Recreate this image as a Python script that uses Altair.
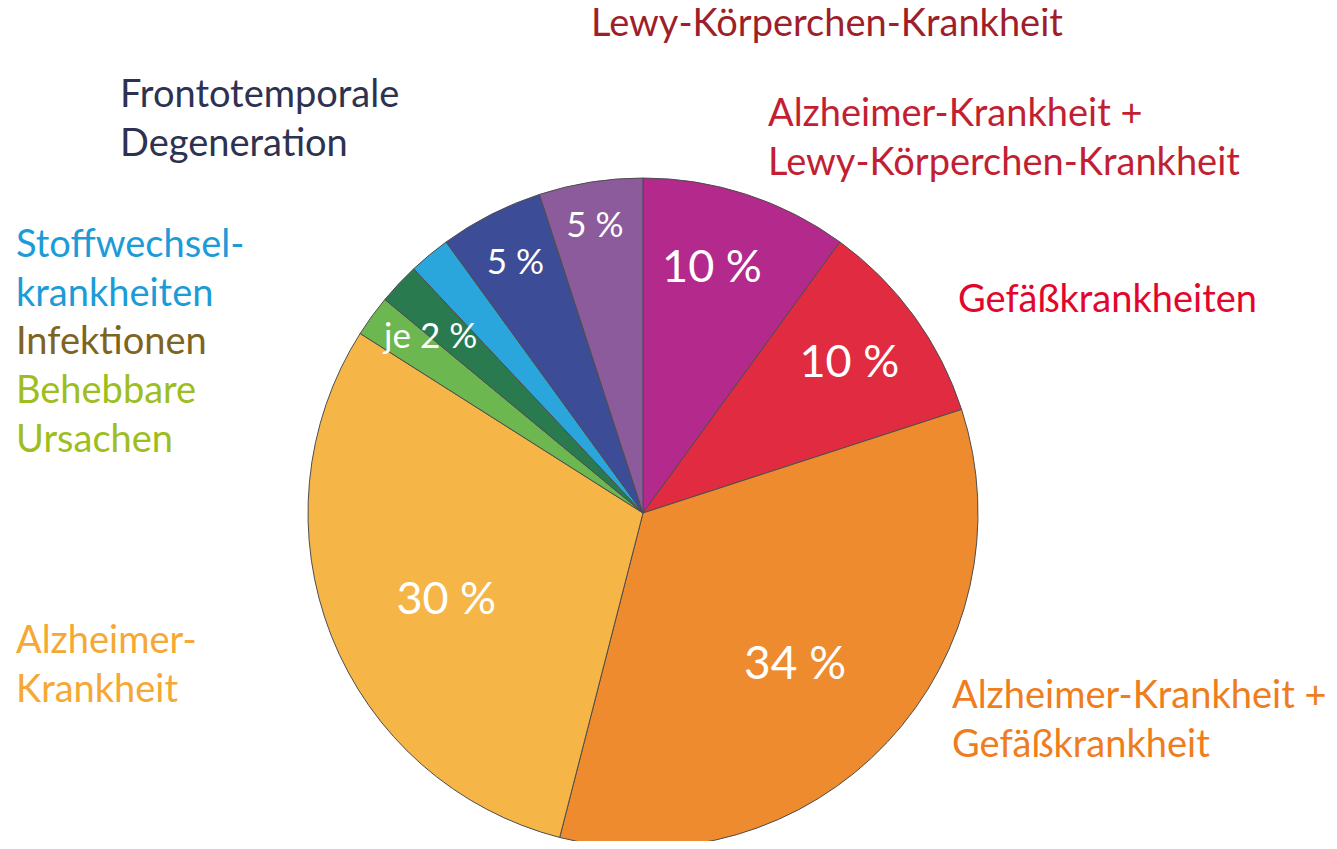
import math
import altair as alt
import pandas as pd

# ---- data (clockwise from 12 o'clock) ----
categories = [
    "Alzheimer-Krankheit + Lewy-Körperchen-Krankheit",
    "Gefäßkrankheiten",
    "Alzheimer-Krankheit + Gefäßkrankheit",
    "Alzheimer-Krankheit",
    "Behebbare Ursachen",
    "Infektionen",
    "Stoffwechselkrankheiten",
    "Frontotemporale Degeneration",
    "Lewy-Körperchen-Krankheit",
]
values = [10, 10, 34, 30, 2, 2, 2, 5, 5]
pct_labels = ["10 %", "10 %", "34 %", "30 %", "", "je 2 %", "", "5 %", "5 %"]

# ---- styles ----
slice_colors = ["#B42A8C", "#E02B40", "#EE8B2F", "#F5B547", "#6CB74F",
                "#2A7A4F", "#2BA6DD", "#3D4C96", "#8B5B9B"]
label_colors = ["#C21F33", "#E3062C", "#EF7D1E", "#F5A833", "#9DBE1E",
                "#7D6422", "#1B9BD7", "#2D3250", "#9E1F2A"]
label_texts = [
    ["Alzheimer-Krankheit +", "Lewy-Körperchen-Krankheit"],
    ["Gefäßkrankheiten"],
    ["Alzheimer-Krankheit +", "Gefäßkrankheit"],
    ["Alzheimer-", "Krankheit"],
    ["Behebbare", "Ursachen"],
    ["Infektionen"],
    ["Stoffwechsel-", "krankheiten"],
    ["Frontotemporale", "Degeneration"],
    ["Lewy-Körperchen-Krankheit"],
]
# layout (pixels in chart space)
CX, CY, R = 635, 505, 335
pct_radius = [255, 255, 215, 215, 0, 276, 0, 281, 291]
pct_nudge_deg = [-2.3, 0, 1.8, -2.2, 0, -3.5, 0, 0, -0.5]
pct_size = [45, 45, 46, 45, 0, 35, 0, 35, 35]
label_x = [760, 950, 944, 8, 8, 8, 8, 112, 583]
label_y = [118, 304, 700, 645, 395, 346, 249, 99, 28]

FONT = "Lato"

df = pd.DataFrame({"cat": categories, "value": values, "idx": range(len(values)),
                   "color": slice_colors})

total = sum(values)
cum = 0
mids = []
for v, n in zip(values, pct_nudge_deg):
    mids.append((cum + v / 2) / total * 2 * math.pi + math.radians(n))
    cum += v

pct_df = pd.DataFrame({"text": pct_labels, "theta": mids, "r": pct_radius,
                       "size": pct_size})
pct_df = pct_df[pct_df["text"] != ""]

lab_df = pd.DataFrame({"text": label_texts, "x": label_x, "y": label_y,
                       "color": label_colors})

pie = alt.Chart(df).mark_arc(outerRadius=R, stroke="#4d4d4d", strokeWidth=1).encode(
    theta=alt.Theta("value:Q", stack=True),
    order=alt.Order("idx:Q"),
    color=alt.Color("color:N", scale=None),
    x=alt.value(CX),
    y=alt.value(CY),
)

pct = alt.Chart(pct_df).mark_text(font=FONT, color="white", align="center",
                                  baseline="middle").encode(
    theta=alt.Theta("theta:Q", scale=None),
    radius=alt.Radius("r:Q", scale=None),
    size=alt.Size("size:Q", scale=None),
    text="text:N",
    x=alt.value(CX),
    y=alt.value(CY),
)

labels = alt.Chart(lab_df).mark_text(font=FONT, fontSize=38, align="left",
                                     baseline="alphabetic", lineHeight=49).encode(
    x=alt.X("x:Q", scale=None),
    y=alt.Y("y:Q", scale=None),
    color=alt.Color("color:N", scale=None),
    text="text",
)

chart = alt.layer(pie, pct, labels).properties(
    width=1321, height=833, padding=0, autosize="none"
).configure_view(stroke=None)

chart.save("out.html", embed_options={"renderer": "svg", "actions": False})
